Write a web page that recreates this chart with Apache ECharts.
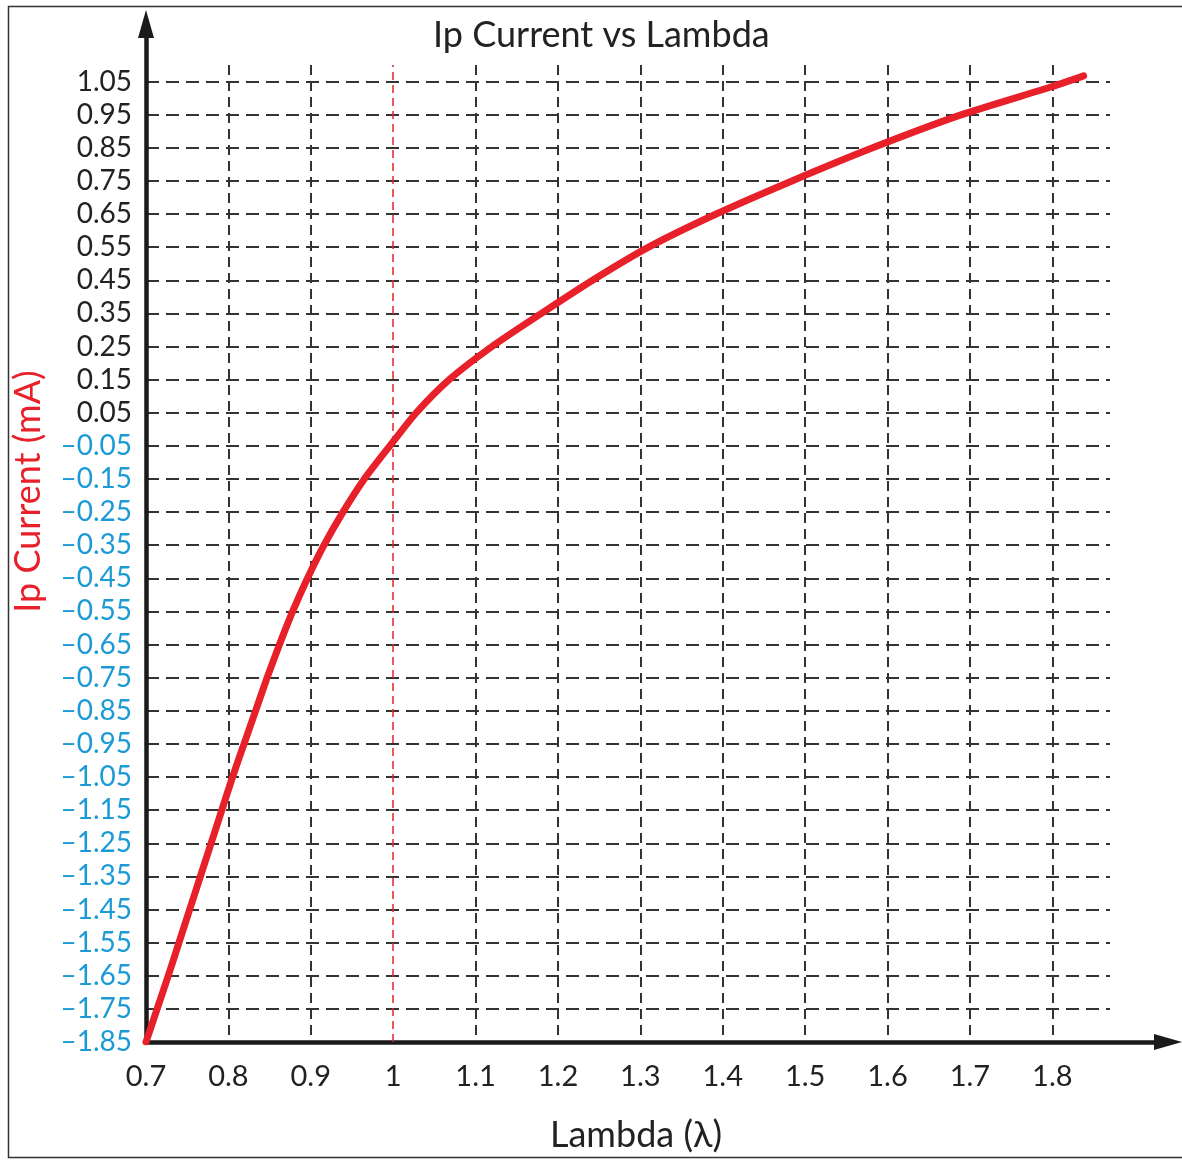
<!DOCTYPE html>
<html>
<head>
<meta charset="utf-8">
<script src="https://cdn.jsdelivr.net/npm/echarts@6/dist/echarts.min.js"></script>
<style>
  html, body { margin: 0; padding: 0; background: #fff; }
  #chart { width: 1182px; height: 1160px; }
</style>
</head>
<body>
<div id="chart"></div>
<script>
// ---- Data ----
const lambdaValues = [0.700, 0.7135, 0.727, 0.740, 0.753, 0.766, 0.779, 0.792, 0.805, 0.819,
                      0.833, 0.847, 0.862, 0.878, 0.896, 0.916, 0.939, 0.965, 0.996, 1.028,
                      1.068, 1.120, 1.180, 1.242, 1.310, 1.392, 1.484, 1.582, 1.690, 1.800, 1.838];
const ipCurrent = [-1.85, -1.75, -1.65, -1.55, -1.45, -1.35, -1.25, -1.15, -1.05, -0.95,
                   -0.85, -0.75, -0.65, -0.55, -0.45, -0.35, -0.25, -0.15, -0.05, 0.05,
                   0.15, 0.25, 0.35, 0.45, 0.55, 0.65, 0.75, 0.85, 0.95, 1.035, 1.067];
const stoichLambda = 1.0;

// ---- Axis tick settings ----
const xTickStart = 0.7, xTickStep = 0.1, xAxisEnd = 1.87;
const yTickStart = -1.85, yTickStep = 0.1, yAxisEnd = 1.10;

const titleText = 'Ip Current vs Lambda';
const xAxisTitle = 'Lambda (\u03bb)';
const yAxisTitle = 'Ip Current (mA)';

const RED = '#e8202a';
const BLUE = '#1c9ad6';
const INK = '#222222';
const GRID = '#333333';
const FONT = 'Lato';

const chart = echarts.init(document.getElementById('chart'), null, { renderer: 'canvas' });

const xSplitColors = [];
for (let i = 0; i < 13; i++) {
  const v = Math.round((xTickStart + i * xTickStep) * 10) / 10;
  xSplitColors.push(v === stoichLambda ? 'rgba(0,0,0,0)' : GRID);
}

const seriesData = lambdaValues.map((x, i) => [x, ipCurrent[i]]);

chart.setOption({
  backgroundColor: '#ffffff',
  animation: false,
  title: {
    text: titleText,
    left: 428,
    top: 12,
    textStyle: { fontFamily: FONT, fontSize: 36, fontWeight: 'normal', color: INK }
  },
  graphic: [{
    type: 'rect',
    shape: { x: 8.5, y: 6.5, width: 1180, height: 1151 },
    style: { fill: 'none', stroke: '#333', lineWidth: 1.5 },
    silent: true
  }],
  grid: [
    { left: 146, right: 72, top: 65, bottom: 118, containLabel: false, outerBoundsMode: 'none' },
    { left: 146, right: 14, top: 24, bottom: 118, containLabel: false, outerBoundsMode: 'none' }
  ],
  xAxis: [{
    type: 'value',
    gridIndex: 0,
    min: xTickStart,
    max: xAxisEnd,
    interval: xTickStep,
    axisLine: { show: false },
    axisTick: { show: false },
    axisLabel: {
      showMaxLabel: false,
      margin: 20,
      fontFamily: FONT,
      fontSize: 29,
      color: INK,
      formatter: v => String(Math.round(v * 10) / 10)
    },
    splitLine: {
      show: true,
      showMaxLine: false,
      lineStyle: { color: xSplitColors, width: 2, type: [10, 6] }
    },
    name: xAxisTitle,
    nameLocation: 'middle',
    nameGap: 75,
    nameTextStyle: { fontFamily: FONT, fontSize: 36, color: INK, padding: [0, 0, 0, 16] }
  }, {
    type: 'value',
    gridIndex: 1,
    min: 0, max: 1,
    axisLine: {
      show: true,
      symbol: ['none', 'triangle'],
      symbolSize: [16, 28],
      lineStyle: { color: '#1a1a1a', width: 4.5 }
    },
    axisTick: { show: false },
    axisLabel: { show: false },
    splitLine: { show: false }
  }],
  yAxis: [{
    type: 'value',
    gridIndex: 0,
    min: yTickStart,
    max: yAxisEnd,
    interval: yTickStep,
    axisLine: { show: false },
    axisTick: { show: false },
    axisLabel: {
      showMaxLabel: false,
      margin: 14,
      fontFamily: FONT,
      fontSize: 28,
      color: v => (Number(v) < 0 ? BLUE : INK),
      formatter: v => (v < 0 ? '\u2013' : '') + Math.abs(v).toFixed(2)
    },
    splitLine: {
      show: true,
      showMinLine: false,
      showMaxLine: false,
      lineStyle: { color: GRID, width: 2, type: [13, 7] }
    },
    name: yAxisTitle,
    nameLocation: 'middle',
    nameGap: 100,
    nameTextStyle: { fontFamily: FONT, fontSize: 36, color: RED, padding: [0, 0, 0, 124] }
  }, {
    type: 'value',
    gridIndex: 1,
    min: 0, max: 1,
    axisLine: {
      show: true,
      symbol: ['none', 'triangle'],
      symbolSize: [16, 28],
      lineStyle: { color: '#1a1a1a', width: 4.5 }
    },
    axisTick: { show: false },
    axisLabel: { show: false },
    splitLine: { show: false }
  }],
  series: [{
    type: 'line',
    xAxisIndex: 0,
    yAxisIndex: 0,
    data: seriesData,
    smooth: 0.25,
    showSymbol: false,
    lineStyle: { color: RED, width: 7, cap: 'round', join: 'round' },
    z: 5,
    markLine: {
      silent: true,
      symbol: ['none', 'none'],
      label: { show: false },
      lineStyle: { color: RED, width: 1.5, type: [8, 5] },
      data: [{ xAxis: stoichLambda }]
    }
  }]
});
</script>
</body>
</html>
